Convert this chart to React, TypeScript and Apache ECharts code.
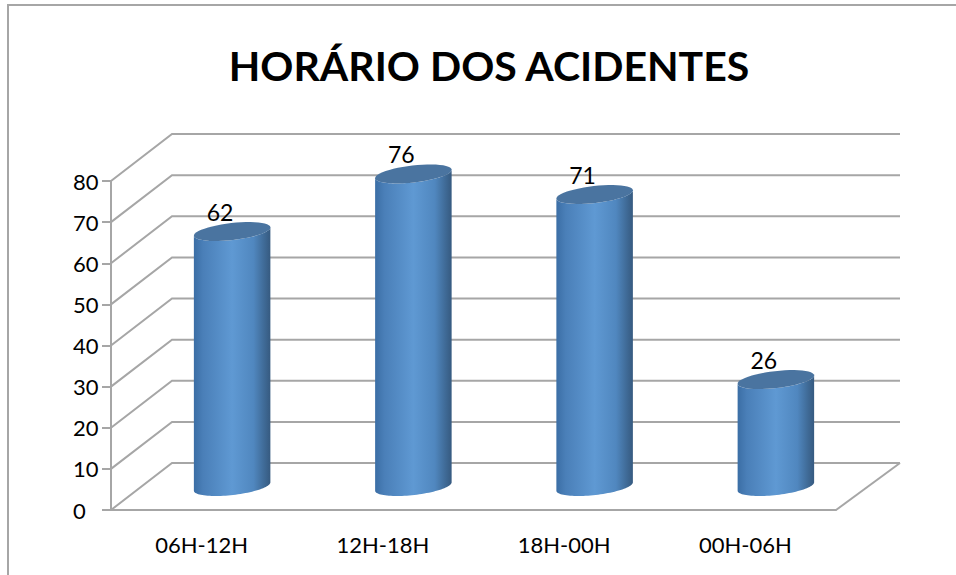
import React, { useEffect, useRef } from "react";
import * as echarts from "echarts";

const categories = ["06H-12H", "12H-18H", "18H-00H", "00H-06H"];
const accidents = [62, 76, 71, 26];
const yTicks = [0, 10, 20, 30, 40, 50, 60, 70, 80];
const titleText = "HORÁRIO DOS ACIDENTES";

const DEPTH_X = 61;
const DEPTH_Y = -47;
const GRID = "#a6a6a6";
const FONT = "Lato, Carlito, sans-serif";
const RX = 38.5;
const RY = 8.5;
const TILT = (-6.5 * Math.PI) / 180;
const STEPS = 48;

function ellipsePoint(cx: number, cy: number, t: number): number[] {
  const ex = RX * Math.cos(t);
  const ey = RY * Math.sin(t);
  return [cx + ex * Math.cos(TILT) - ey * Math.sin(TILT), cy + ex * Math.sin(TILT) + ey * Math.cos(TILT)];
}

// Part of the ellipse from angle t0 to t1, as a run of points
function arcPoints(cx: number, cy: number, t0: number, t1: number): number[][] {
  const pts: number[][] = [];
  for (let i = 0; i <= STEPS; i++) {
    pts.push(ellipsePoint(cx, cy, t0 + ((t1 - t0) * i) / STEPS));
  }
  return pts;
}

function wallItem(params: any, api: any) {
  const value = api.value(0);
  const p = api.coord([0, value]);
  const x0 = params.coordSys.x;
  const xEnd = x0 + params.coordSys.width;
  const y = p[1];
  const children: any[] = [
    {
      type: "polyline",
      shape: {
        points: [
          [x0, y],
          [x0 + DEPTH_X, y + DEPTH_Y],
          [xEnd + DEPTH_X + 3, y + DEPTH_Y],
        ],
      },
      style: { stroke: GRID, lineWidth: 2, fill: "none" },
    },
  ];
  if (value === 0) {
    children.push({
      type: "line",
      shape: { x1: xEnd, y1: y, x2: xEnd + DEPTH_X + 3, y2: y + DEPTH_Y },
      style: { stroke: GRID, lineWidth: 2 },
    });
  }
  return { type: "group", children };
}

function cylinderItem(params: any, api: any) {
  const idx = api.value(0);
  const val = api.value(1);
  const top = api.coord([idx, val]);
  const base = api.coord([idx, 0]);
  const cx = top[0] + DEPTH_X / 2;
  const yt = top[1] + DEPTH_Y / 2;
  const yb = base[1] + DEPTH_Y / 2;
  // Left side, lower edge of the base, right side, lower edge of the cap
  const body = [
    ...arcPoints(cx, yb, Math.PI, 0),
    ...arcPoints(cx, yt, 0, Math.PI),
  ];
  const cap = arcPoints(cx, yt, 0, 2 * Math.PI);
  return {
    type: "group",
    children: [
      {
        type: "polygon",
        shape: { points: body },
        style: {
          fill: {
            type: "linear",
            x: 0,
            y: 0,
            x2: 1,
            y2: 0,
            colorStops: [
              { offset: 0, color: "#3b6ea5" },
              { offset: 0.12, color: "#4a7fb8" },
              { offset: 0.5, color: "#5f99d3" },
              { offset: 0.78, color: "#5087bf" },
              { offset: 0.92, color: "#3f6a96" },
              { offset: 1, color: "#365a80" },
            ],
          },
        },
      },
      {
        type: "polygon",
        shape: { points: cap },
        style: { fill: "#4a74a0" },
      },
      {
        type: "text",
        style: {
          text: String(val),
          x: cx - 12,
          y: yt - 19.5,
          align: "center",
          verticalAlign: "middle",
          fill: "#000",
          font: `23px ${FONT}`,
        },
      },
    ],
  };
}

export default function App() {
  const ref = useRef<HTMLDivElement>(null);
  useEffect(() => {
    const chart = echarts.init(ref.current!, undefined, { renderer: "svg" });
    chart.setOption({
      animation: false,
      backgroundColor: "#fff",
      title: {
        text: titleText,
        left: 484,
        top: 40,
        textAlign: "center",
        textStyle: { fontFamily: FONT, fontWeight: "bold", fontSize: 41, color: "#000" },
      },
      grid: { left: 111, right: 120, top: 181, bottom: 65 },
      xAxis: {
        type: "category",
        data: categories,
        axisLine: { lineStyle: { color: GRID, width: 2 } },
        axisTick: { alignWithLabel: false, length: 7, lineStyle: { color: GRID, width: 2 } },
        axisLabel: { color: "#000", fontSize: 22, fontFamily: FONT, margin: 23 },
        splitLine: { show: false },
      },
      yAxis: {
        type: "value",
        min: 0,
        max: 80,
        interval: 10,
        axisLine: { show: true, lineStyle: { color: GRID, width: 2 } },
        axisTick: { show: true, length: 9, lineStyle: { color: GRID, width: 2 } },
        axisLabel: { color: "#000", fontSize: 22, fontFamily: FONT, margin: 38, align: "left" },
        splitLine: { show: false },
      },
      series: [
        {
          type: "custom",
          name: "wall",
          coordinateSystem: "cartesian2d",
          renderItem: wallItem,
          encode: { y: 0 },
          data: yTicks.map((t) => [t]),
          silent: true,
          z: 1,
        },
        {
          type: "custom",
          name: "Acidentes",
          coordinateSystem: "cartesian2d",
          renderItem: cylinderItem,
          encode: { x: 0, y: 1 },
          data: accidents.map((v, i) => [i, v]),
          silent: true,
          z: 5,
          clip: false,
        },
      ],
      graphic: [
        {
          type: "polyline",
          shape: { points: [[8, 575], [8, 5], [956, 5]] },
          style: { stroke: GRID, lineWidth: 2, fill: "none" },
          silent: true,
        },
      ],
    });
    return () => chart.dispose();
  }, []);
  return (
    <div
      ref={ref}
      style={{ position: "fixed", left: 0, top: 0, width: 956, height: 575 }}
    />
  );
}
